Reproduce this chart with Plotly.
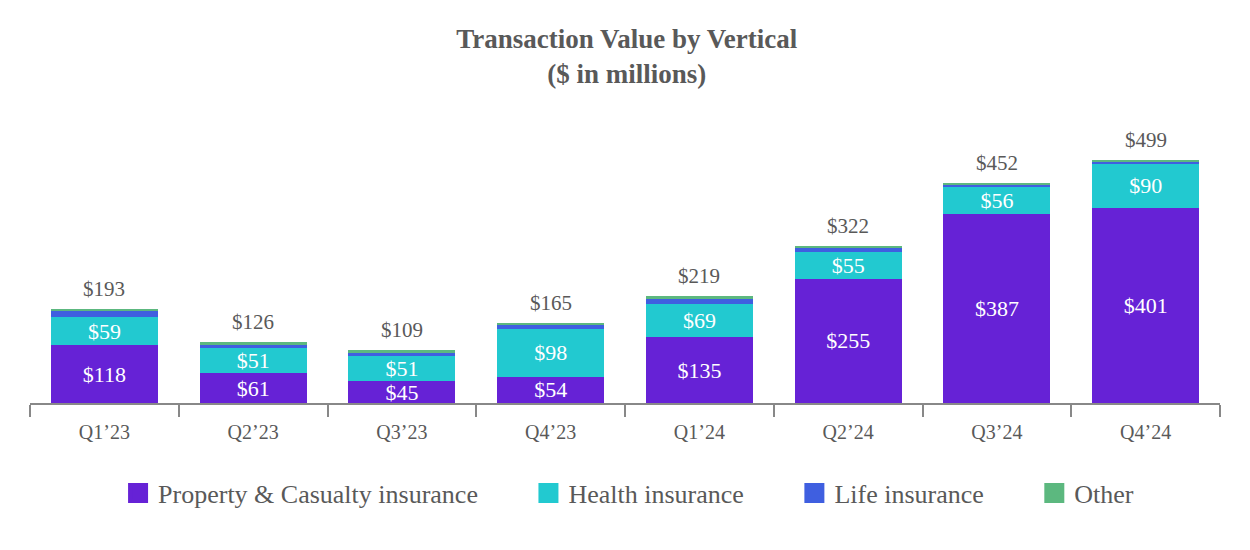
import plotly.graph_objects as go

# Quarterly transaction value by vertical ($ in millions)
quarters = ["Q1’23", "Q2’23", "Q3’23", "Q4’23", "Q1’24", "Q2’24", "Q3’24", "Q4’24"]
pc_insurance = [118, 61, 45, 54, 135, 255, 387, 401]
health_insurance = [59, 51, 51, 98, 69, 55, 56, 90]
life_insurance = [12, 8, 7, 9, 10, 8, 6, 5]
other = [4, 6, 6, 4, 5, 4, 3, 3]
totals = [193, 126, 109, 165, 219, 322, 452, 499]

series = [
    ("Property & Casualty insurance", pc_insurance, "#6622D6", True),
    ("Health insurance", health_insurance, "#22C9D0", True),
    ("Life insurance", life_insurance, "#3F5FE0", False),
    ("Other", other, "#5CB87F", False),
]

font_family = "Liberation Serif, Times New Roman, serif"
grey = "#595959"

fig = go.Figure()

for name, vals, color, labelled in series:
    fig.add_trace(go.Bar(
        x=quarters,
        y=vals,
        name=name,
        marker=dict(color=color, line=dict(width=0)),
        text=[f"${v}" for v in vals] if labelled else None,
        textposition="inside" if labelled else "none",
        insidetextanchor="middle",
        constraintext="none",
        textfont=dict(family=font_family, size=22, color="white"),
        showlegend=False,
        hoverinfo="skip",
    ))

# legend entries with large square swatches
for i, (name, vals, color, labelled) in enumerate(series):
    pad = "" if i == len(series) - 1 else "\u00a0" * 7
    fig.add_trace(go.Scatter(
        x=[None], y=[None],
        mode="markers",
        name=name + pad,
        marker=dict(symbol="square", size=24, color=color,
                    line=dict(color=color, width=4)),
    ))

# total labels above each stack
for q, t in zip(quarters, totals):
    fig.add_annotation(
        x=q, y=t, text=f"${t}",
        showarrow=False,
        yanchor="bottom", yshift=6,
        font=dict(family=font_family, size=21, color=grey),
    )

fig.update_layout(
    barmode="stack",
    bargap=0.28,
    width=1250,
    height=550,
    plot_bgcolor="white",
    paper_bgcolor="white",
    margin=dict(l=22, r=38, t=122, b=155),
    title=dict(
        text="<b>Transaction Value by Vertical<br>($ in millions)</b>",
        x=0.495, xanchor="center",
        y=0.927, yanchor="top",
        font=dict(family=font_family, size=27, color=grey),
    ),
    legend=dict(
        orientation="h",
        traceorder="normal",
        x=0.503, xanchor="center",
        y=-0.33, yanchor="middle",
        font=dict(family=font_family, size=26, color=grey),
        itemsizing="trace",
    ),
    xaxis=dict(
        type="category",
        range=[-0.5, 7.5],
        showline=True,
        linecolor="#888888",
        linewidth=2,
        ticks="outside",
        tickson="boundaries",
        ticklen=12,
        tickcolor="#888888",
        tickwidth=2,
        ticklabelstandoff=10,
        tickfont=dict(family=font_family, size=20, color=grey),
        showgrid=False,
    ),
    yaxis=dict(
        range=[0, 560],
        visible=False,
        showgrid=False,
    ),
)

fig.write_html("out.html")
